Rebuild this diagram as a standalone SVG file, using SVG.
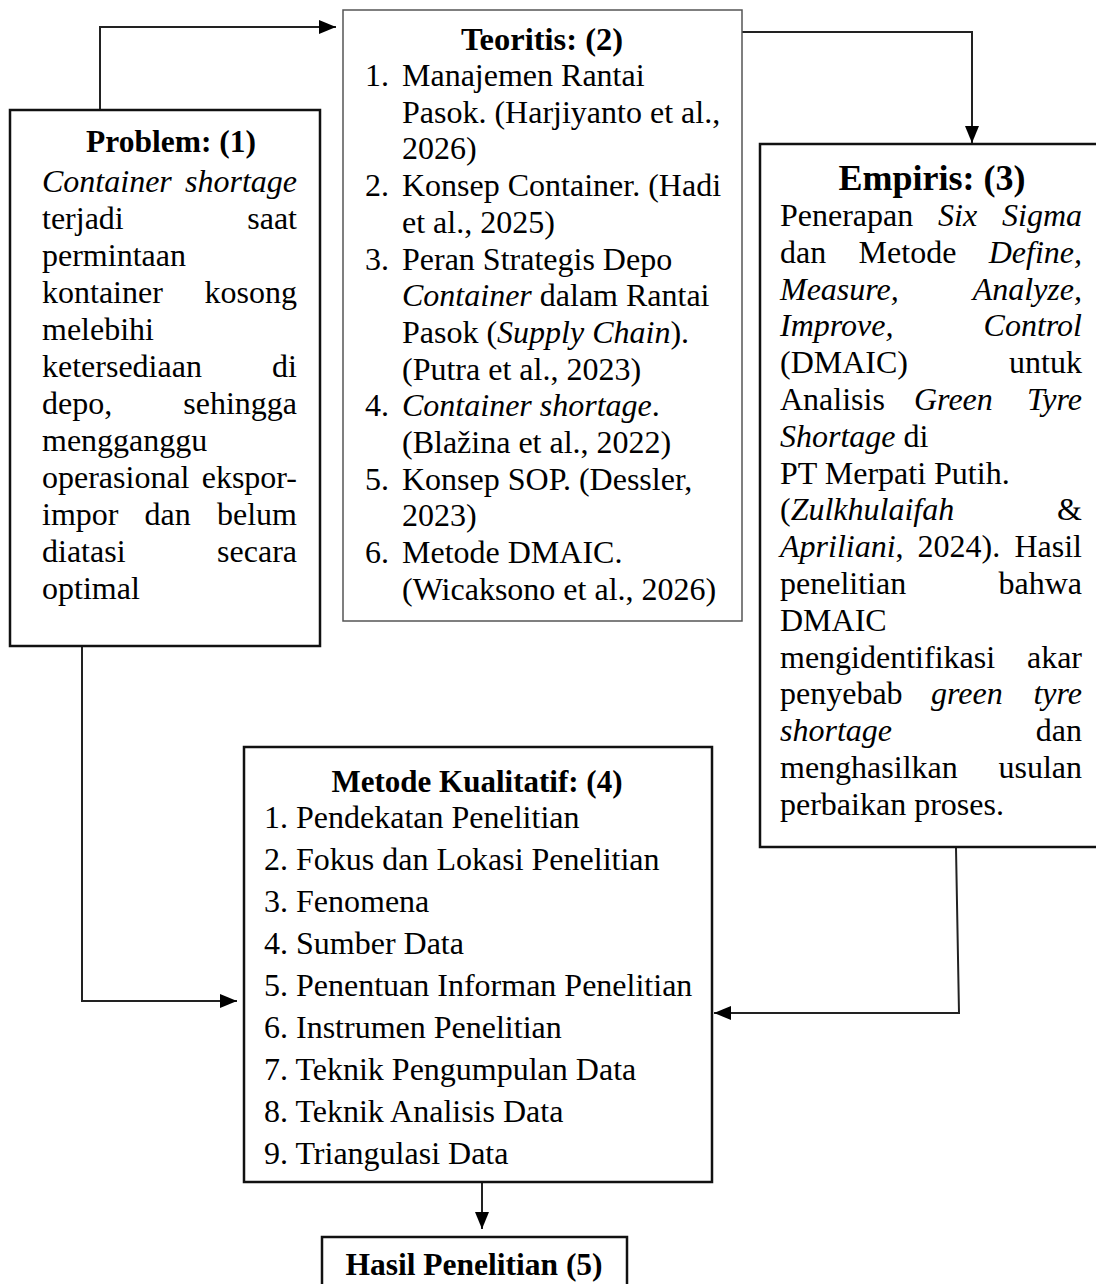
<svg xmlns="http://www.w3.org/2000/svg" width="1096" height="1284" viewBox="0 0 1096 1284">
<style>
text{font-family:"Liberation Serif","Times New Roman",serif;fill:#000}
.b{font-size:32px}
.t{font-size:31.5px;font-weight:bold;text-anchor:middle}
.i{font-style:italic}
.e{text-anchor:end}
.box{fill:#fff;stroke:#111;stroke-width:2.5}
.boxg{fill:#fff;stroke:#555;stroke-width:1.5}
.con{fill:none;stroke:#222;stroke-width:2}
</style>
<defs>
<marker id="ah" markerUnits="userSpaceOnUse" markerWidth="17" markerHeight="14" refX="17" refY="7" orient="auto">
<path d="M0,0 L17,7 L0,14 z" fill="#000"/>
</marker>
</defs>
<g id="connectors">
<path class="con" d="M100,110 V27 H336" marker-end="url(#ah)"/>
<path class="con" d="M742,32 H972 V143" marker-end="url(#ah)"/>
<path class="con" d="M82,646 V1001 H237" marker-end="url(#ah)"/>
<path class="con" d="M956,848 L959,1013 H714" marker-end="url(#ah)"/>
<path class="con" d="M482,1183 V1229" marker-end="url(#ah)"/>
</g>
<g id="problem">
<rect class="box" x="10" y="110" width="310" height="536"/>
<text class="t" x="171" y="152">Problem: (1)</text>
<g class="b">
<text x="42" y="192" class="i">Container</text><text x="297" y="192" class="i e">shortage</text>
<text x="42" y="229">terjadi</text><text x="297" y="229" class="e">saat</text>
<text x="42" y="266">permintaan</text>
<text x="42" y="303">kontainer</text><text x="297" y="303" class="e">kosong</text>
<text x="42" y="340">melebihi</text>
<text x="42" y="377">ketersediaan</text><text x="297" y="377" class="e">di</text>
<text x="42" y="414">depo,</text><text x="297" y="414" class="e">sehingga</text>
<text x="42" y="451">mengganggu</text>
<text x="42" y="488">operasional</text><text x="297" y="488" class="e">ekspor-</text>
<text x="42" y="525">impor</text><text x="144.6" y="525">dan</text><text x="297" y="525" class="e">belum</text>
<text x="42" y="562">diatasi</text><text x="297" y="562" class="e">secara</text>
<text x="42" y="599">optimal</text>
</g>
</g>
<g id="teoritis">
<rect class="boxg" x="343" y="10" width="399" height="611"/>
<text class="t" x="542" y="50" style="font-size:32.5px">Teoritis: (2)</text>
<g class="b">
<text x="365" y="86">1.</text><text x="402" y="86">Manajemen Rantai</text>
<text x="402" y="122.7">Pasok. (Harjiyanto et al.,</text>
<text x="402" y="159.4">2026)</text>
<text x="365" y="196.1">2.</text><text x="402" y="196.1">Konsep Container. (Hadi</text>
<text x="402" y="232.8">et al., 2025)</text>
<text x="365" y="269.5">3.</text><text x="402" y="269.5">Peran Strategis Depo</text>
<text x="402" y="306.2"><tspan class="i">Container</tspan> dalam Rantai</text>
<text x="402" y="342.9">Pasok (<tspan class="i">Supply Chain</tspan>).</text>
<text x="402" y="379.6">(Putra et al., 2023)</text>
<text x="365" y="416.3">4.</text><text x="402" y="416.3"><tspan class="i">Container shortage</tspan>.</text>
<text x="402" y="453">(Blažina et al., 2022)</text>
<text x="365" y="489.7">5.</text><text x="402" y="489.7">Konsep SOP. (Dessler,</text>
<text x="402" y="526.4">2023)</text>
<text x="365" y="563.1">6.</text><text x="402" y="563.1">Metode DMAIC.</text>
<text x="402" y="599.8">(Wicaksono et al., 2026)</text>
</g>
</g>
<g id="empiris">
<rect class="box" x="760" y="144" width="345" height="703"/>
<text class="t" x="932" y="190" style="font-size:36px">Empiris: (3)</text>
<g class="b">
<text x="780" y="226">Penerapan</text><text x="938" y="226" class="i">Six</text><text x="1082" y="226" class="i e">Sigma</text>
<text x="780" y="262.8">dan</text><text x="858.6" y="262.8">Metode</text><text x="1082" y="262.8" class="i e">Define,</text>
<text x="780" y="299.6" class="i">Measure,</text><text x="1082" y="299.6" class="i e">Analyze,</text>
<text x="780" y="336.4" class="i">Improve,</text><text x="1082" y="336.4" class="i e">Control</text>
<text x="780" y="373.2">(DMAIC)</text><text x="1082" y="373.2" class="e">untuk</text>
<text x="780" y="410">Analisis</text><text x="914" y="410" class="i">Green</text><text x="1082" y="410" class="i e">Tyre</text>
<text x="780" y="446.8"><tspan class="i">Shortage</tspan> di</text>
<text x="780" y="483.6">PT Merpati Putih.</text>
<text x="780" y="520.4">(<tspan class="i">Zulkhulaifah</tspan></text><text x="1082" y="520.4" class="e">&amp;</text>
<text x="780" y="557.2"><tspan class="i">Apriliani</tspan>,</text><text x="917.6" y="557.2">2024).</text><text x="1082" y="557.2" class="e">Hasil</text>
<text x="780" y="594">penelitian</text><text x="1082" y="594" class="e">bahwa</text>
<text x="780" y="630.8">DMAIC</text>
<text x="780" y="667.6">mengidentifikasi</text><text x="1082" y="667.6" class="e">akar</text>
<text x="780" y="704.4">penyebab</text><text x="931" y="704.4" class="i">green</text><text x="1082" y="704.4" class="i e">tyre</text>
<text x="780" y="741.2" class="i">shortage</text><text x="1082" y="741.2" class="e">dan</text>
<text x="780" y="778">menghasilkan</text><text x="1082" y="778" class="e">usulan</text>
<text x="780" y="814.8">perbaikan proses.</text>
</g>
</g>
<g id="metode">
<rect class="box" x="244" y="747" width="468" height="435"/>
<text class="t" x="477" y="792" style="font-size:31px">Metode Kualitatif: (4)</text>
<g class="b">
<text x="264" y="828">1. Pendekatan Penelitian</text>
<text x="264" y="870">2. Fokus dan Lokasi Penelitian</text>
<text x="264" y="912">3. Fenomena</text>
<text x="264" y="954">4. Sumber Data</text>
<text x="264" y="996">5. Penentuan Informan Penelitian</text>
<text x="264" y="1038">6. Instrumen Penelitian</text>
<text x="264" y="1080">7. Teknik Pengumpulan Data</text>
<text x="264" y="1122">8. Teknik Analisis Data</text>
<text x="264" y="1164">9. Triangulasi Data</text>
</g>
</g>
<g id="hasil">
<rect class="box" x="322" y="1237" width="305" height="70"/>
<text class="t" x="474" y="1275" style="font-size:31.5px">Hasil Penelitian (5)</text>
</g>
</svg>
